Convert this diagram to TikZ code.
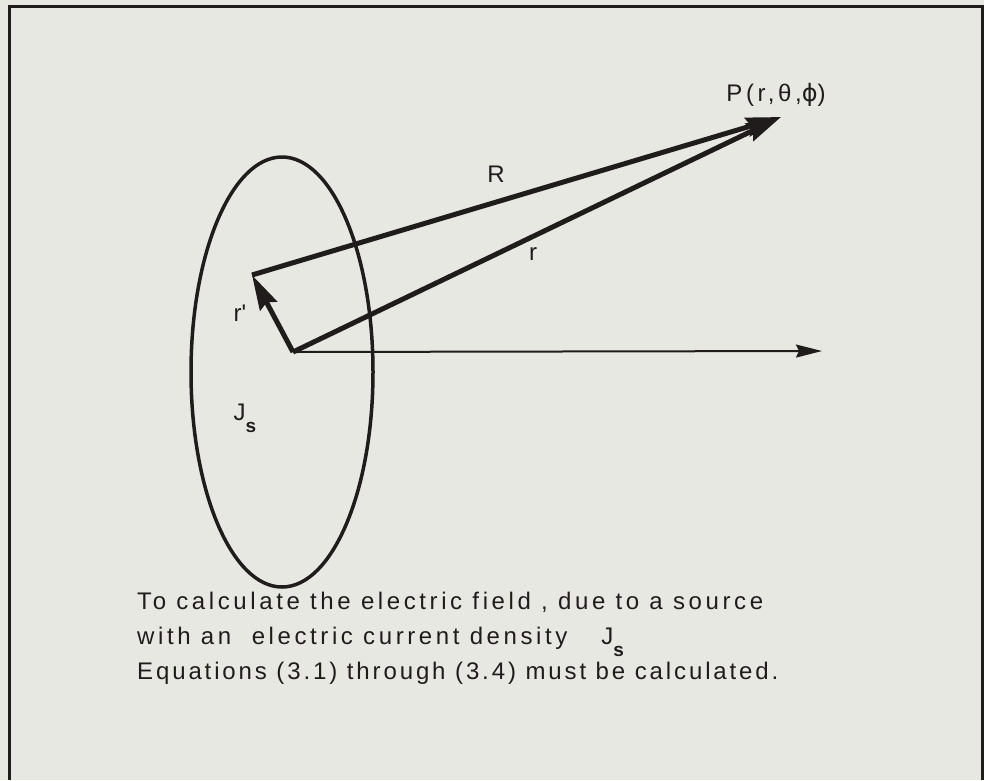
\documentclass[tikz,border=0pt]{standalone}
\usepackage{fontspec}
\setmainfont{Liberation Sans}[LetterSpace=15]
\newfontfamily\greekfont{DejaVu Sans}[LetterSpace=15]
\usepackage{xcolor}
\usetikzlibrary{arrows.meta}
\definecolor{paper}{RGB}{232,232,227}
\definecolor{ink}{RGB}{32,28,28}
\newcommand{\subs}{\raisebox{-12pt}{\fontsize{19}{19}\selectfont\bfseries s}}

\begin{document}
\begin{tikzpicture}[x=1pt, y=-1pt,
    vec/.style={ink, line width=5pt, -{Stealth[length=35pt, width=19pt, inset=4pt]}},
    axis/.style={ink, line width=2pt, -{Stealth[length=26pt, width=13pt, inset=3pt]}},
    lbl/.style={ink, inner sep=0pt, font=\fontsize{24}{28}\selectfont},
    caption/.style={ink, inner sep=0pt, anchor=north west, align=left, font=\fontsize{24}{35}\selectfont}
]
% --- FRAME ---
\fill[paper] (0,0) rectangle (984,780);
\useasboundingbox (0,0) rectangle (984,780);
\draw[ink, line width=3pt] (9,780) -- (9,6) -- (982,6) -- (982,780);

% --- SOURCE ---
\draw[ink, line width=3.5pt] (282,372) ellipse [x radius=91pt, y radius=215pt];

% --- POINTS ---
\coordinate (O) at (293,352);
\coordinate (rp) at (252,275);
\coordinate (P) at (781,117);
\coordinate (xend) at (822,351);

% --- VECTORS ---
\draw[vec] (O) -- (rp);
\draw[vec] (rp) -- (P);
\draw[vec] (O) -- (P);
\draw[axis] (O) -- (xend);

% --- LABELS ---
\node[lbl] (plabel) at (776,95) {P(r,θ,{\greekfont ϕ})};
\node[lbl] (Rlabel) at (496,174) {R};
\node[lbl] (rlabel) at (533,254) {r};
\node[lbl] (rplabel) at (240,313) {r\textquotesingle};
\node[lbl] (jlabel) at (245,418) {J\subs};

\node[caption] (text) at (137,592) {To calculate the electric field , due to a source\\
with an \ electric current density\hspace{34pt}J\subs\\
{\addfontfeature{LetterSpace=12}Equations (3.1) through (3.4) must be calculated.}};
\end{tikzpicture}
\end{document}
